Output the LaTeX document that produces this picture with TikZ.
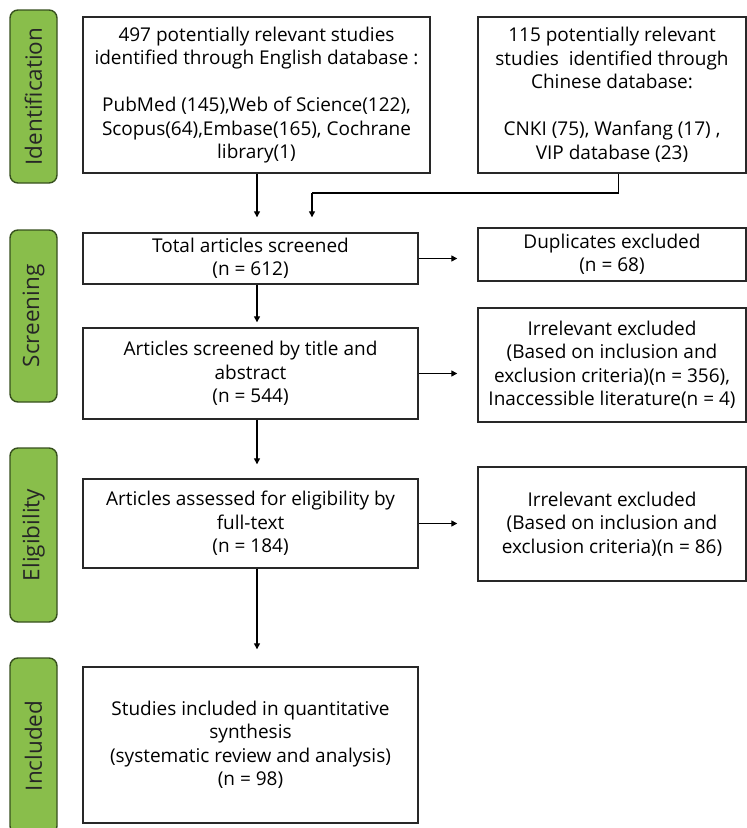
\documentclass[tikz,border=0pt]{standalone}
\usepackage{fontspec}
\setmainfont{Open Sans}
\usetikzlibrary{arrows.meta}
\definecolor{barfill}{RGB}{137,190,75}
\definecolor{barline}{RGB}{55,80,30}
\definecolor{boxline}{RGB}{40,40,40}
\tikzset{
  flowbox/.style={draw=boxline, line width=1.4pt, fill=white, align=center, inner sep=1pt,
    font=\fontsize{19}{23.5}\selectfont, text=black},
  phasebar/.style={draw=barline, line width=1.4pt, fill=barfill, rounded corners=8pt, minimum width=47pt,
    anchor=center},
  phasetext/.style={rotate=90, font=\fontsize{22.5}{25}\selectfont, text=black!85},
  arr/.style={draw=black, line width=1.3pt, -{Triangle[length=6pt,width=6pt]}},
  conn/.style={draw=black, line width=1.3pt}
}
\begin{document}
\begin{tikzpicture}[x=1pt,y=-1pt]
\useasboundingbox (0,0) rectangle (747,828);
% phase bars
\node[phasebar, minimum height=173pt] (pI) at (33.5,96.5) {};
\node[phasetext] (tI) at (pI.center) {Identification};
\node[phasebar, minimum height=172pt] (pS) at (33.5,316) {};
\node[phasetext] (tS) at (pS.center) {Screening};
\node[phasebar, minimum height=174pt] (pE) at (33.5,535) {};
\node[phasetext] (tE) at (pE.center) {Eligibility};
\node[phasebar, minimum height=176pt] (pN) at (33.5,746) {};
\node[phasetext] (tN) at (pN.center) {Included};
% boxes
\node[flowbox, minimum width=347pt, minimum height=156pt] (b1) at (256.5,95)
 {497 potentially relevant studies\\identified through English database :\\[23.5pt]PubMed (145),Web of Science(122),\\Scopus(64),Embase(165), Cochrane\\library(1)};
\node[flowbox, minimum width=268pt, minimum height=156pt] (b2) at (612,95)
 {115 potentially relevant\\studies\ \ identified through\\Chinese database:\\[23.5pt]CNKI (75), Wanfang (17) ,\\VIP database (23)};
\node[flowbox, minimum width=335pt, minimum height=51pt] (tot) at (250.5,258.5)
 {Total articles screened\\(n = 612)};
\node[flowbox, minimum width=268pt, minimum height=53pt] (dup) at (612,254.5)
 {Duplicates excluded\\(n = 68)};
\node[flowbox, minimum width=335pt, minimum height=91pt] (tia) at (250.5,373.5)
 {Articles screened by title and\\abstract\\(n = 544)};
\node[flowbox, minimum width=268pt, minimum height=114pt] (irr1) at (612,365)
 {Irrelevant excluded\\(Based on inclusion and\\exclusion criteria)(n = 356),\\Inaccessible literature(n = 4)};
\node[flowbox, minimum width=335pt, minimum height=89pt] (eli) at (250.5,523.5)
 {Articles assessed for eligibility by\\full-text\\(n = 184)};
\node[flowbox, minimum width=268pt, minimum height=114pt] (irr2) at (612,524)
 {Irrelevant excluded\\(Based on inclusion and\\exclusion criteria)(n = 86)};
\node[flowbox, minimum width=335pt, minimum height=156pt] (inc) at (250.5,745)
 {Studies included in quantitative\\synthesis\\(systematic review and analysis)\\(n = 98)};
% connectors
\coordinate (j1) at ([xshift=6.5pt]b2.south |- 0,193);
\coordinate (j2) at (312,193);
\draw[arr, shorten >=15pt] ([xshift=0.5pt]b1.south) -- ([xshift=0.5pt]b1.south |- tot.north);
\draw[conn] ([xshift=6.5pt]b2.south) -- (j1) -- (j2);
\draw[arr, shorten >=15pt] (j2) -- (j2 |- tot.north);
\draw[arr, shorten >=20pt] (tot.east) -- (tot.east -| dup.west);
\draw[arr, shorten >=5pt] ([xshift=6.5pt]tot.south) -- ([xshift=6.5pt]tot.south |- tia.north);
\draw[arr, shorten >=20pt] (tia.east) -- (tia.east -| irr1.west);
\draw[arr, shorten >=14pt] ([xshift=6.5pt]tia.south) -- ([xshift=6.5pt]tia.south |- eli.north);
\draw[arr, shorten >=20pt] (eli.east) -- (eli.east -| irr2.west);
\draw[arr, shorten >=17pt] ([xshift=6.5pt]eli.south) -- ([xshift=6.5pt]eli.south |- inc.north);
\end{tikzpicture}
\end{document}
